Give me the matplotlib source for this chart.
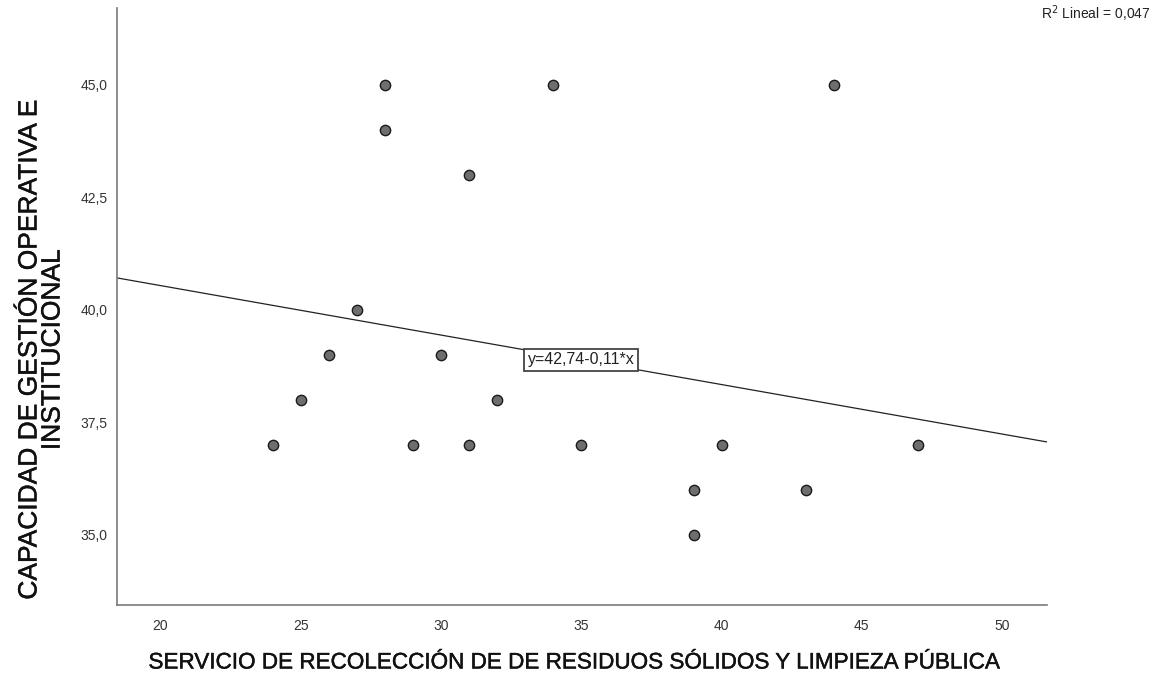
import matplotlib
matplotlib.use("Agg")
import matplotlib.pyplot as plt
import matplotlib.patheffects as pe
import numpy as np

plt.rcParams['font.family'] = ['Liberation Sans', 'DejaVu Sans']

# Observations
servicio = [24, 25, 26, 27, 28, 28, 29, 30, 31, 31, 32, 34, 35, 39, 39, 40, 43, 44, 47]
capacidad = [37, 38, 39, 40, 44, 45, 37, 39, 37, 43, 38, 45, 37, 36, 35, 37, 36, 45, 37]

# Linear fit as reported
intercepto = 42.74
pendiente = -0.11
r2 = "0,047"

x_ticks = [20, 25, 30, 35, 40, 45, 50]
x_tick_labels = ["20", "25", "30", "35", "40", "45", "50"]
y_ticks = [35.0, 37.5, 40.0, 42.5, 45.0]
y_tick_labels = ["35,0", "37,5", "40,0", "42,5", "45,0"]

W, H = 1168, 677
fig = plt.figure(figsize=(W / 100, H / 100), dpi=100)
ax = fig.add_axes([117 / W, 1 - 605 / H, (1047 - 117) / W, (605 - 8) / H])

xlim = (18.45, 51.6)
ylim = (33.44, 46.71)
ax.set_xlim(*xlim)
ax.set_ylim(*ylim)

# Regression line across the full x range
xs = np.array(xlim)
ax.plot(xs, intercepto + pendiente * xs, color="#222222", lw=0.9, zorder=2)

ax.scatter(servicio, capacidad, s=55, facecolor="#6e6e6e", edgecolor="#1a1a1a",
           linewidths=1.0, zorder=3)

# Equation label on the line
x_lab = 35.0
ax.text(x_lab, intercepto + pendiente * x_lab, "y=42,74-0,11*x", ha="center", va="center",
        fontsize=11.5, color="#222222", zorder=4,
        bbox=dict(boxstyle="square,pad=0.22", facecolor="white", edgecolor="#444444", lw=1.3))

ax.set_xticks(x_ticks)
ax.set_xticklabels(x_tick_labels)
ax.set_yticks(y_ticks)
ax.set_yticklabels(y_tick_labels)
ax.tick_params(axis="both", length=0, labelsize=10, colors="#333333")
ax.tick_params(axis="x", pad=10)
ax.tick_params(axis="y", pad=7)

for side in ("top", "right"):
    ax.spines[side].set_visible(False)
for side in ("left", "bottom"):
    ax.spines[side].set_color("#7a7a7a")
    ax.spines[side].set_linewidth(1.2)

# Slightly heavier stroke for the axis titles
heavy = [pe.withStroke(linewidth=0.3, foreground="#111111")]

fig.text(574 / W, 1 - 663 / H,
         "SERVICIO DE RECOLECCIÓN DE DE RESIDUOS SÓLIDOS Y LIMPIEZA PÚBLICA",
         ha="center", va="center", fontsize=16.2, color="#111111", path_effects=heavy)
fig.text(41 / W, 1 - 350 / H,
         "CAPACIDAD DE GESTIÓN OPERATIVA E\nINSTITUCIONAL",
         ha="center", va="center", rotation=90, fontsize=19, color="#111111",
         linespacing=0.95, path_effects=heavy)

fig.text(1150 / W, 1 - 14 / H, "R$^2$ Lineal = " + r2, ha="right", va="center",
         fontsize=10, color="#222222")

fig.savefig("out.png", dpi=100, facecolor="white")
